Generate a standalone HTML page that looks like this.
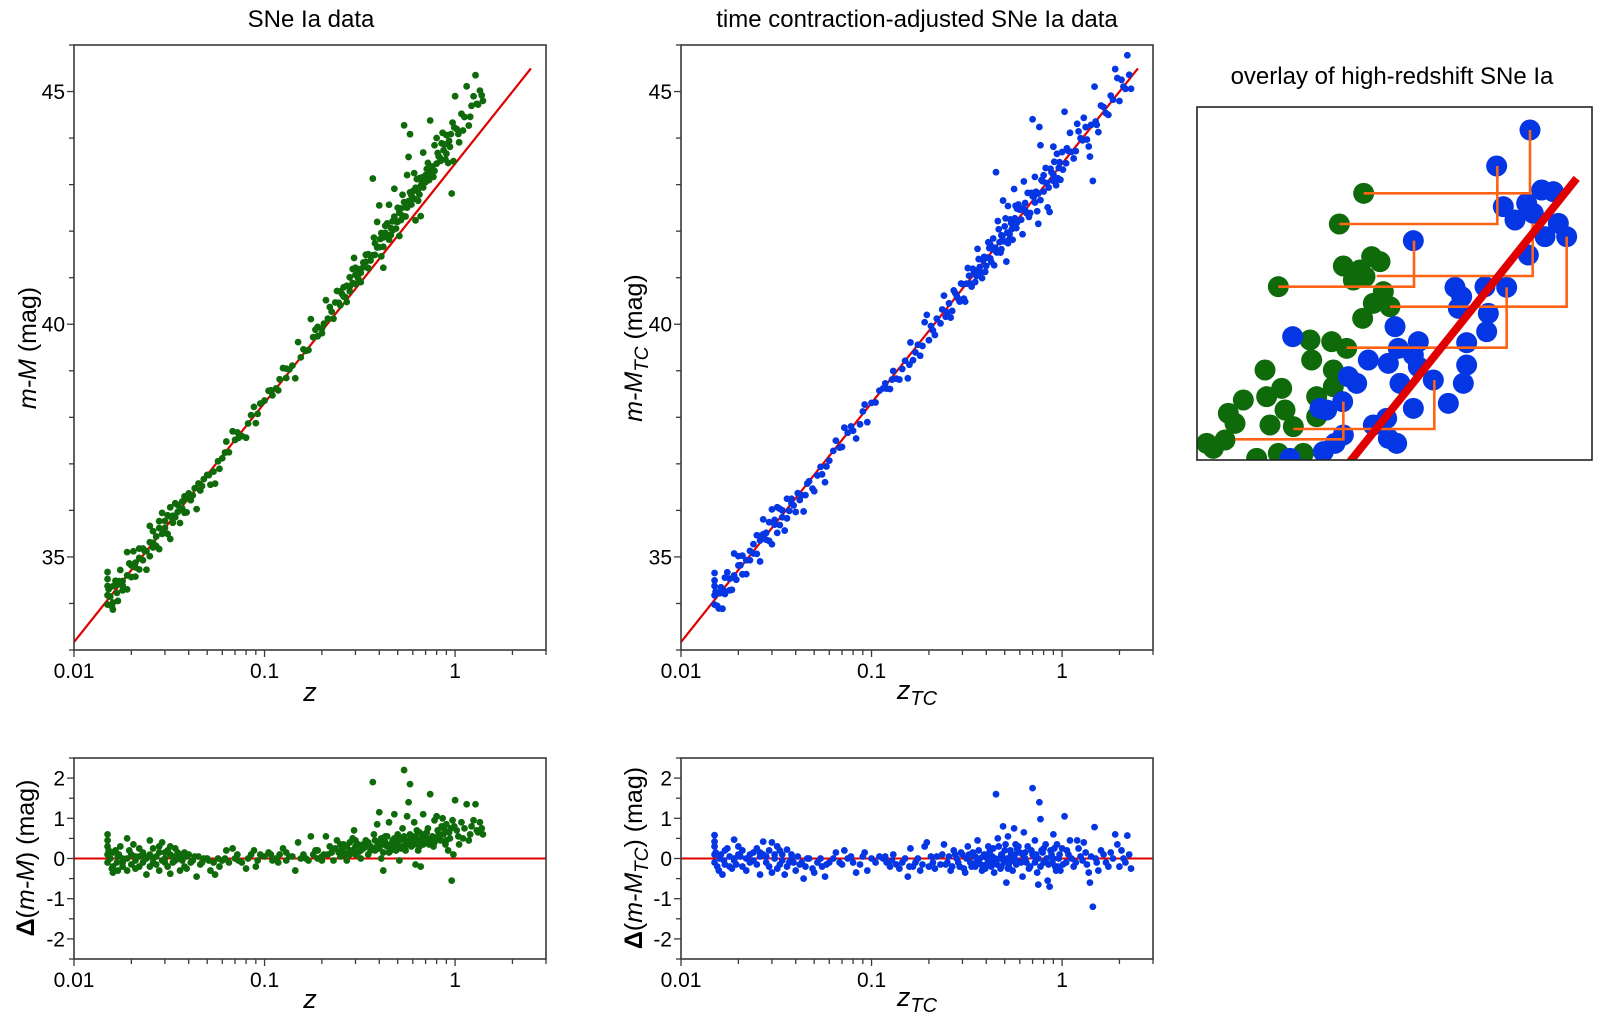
<!DOCTYPE html>
<html><head><meta charset="utf-8"><style>
html,body{margin:0;padding:0;background:#fff;}
svg{display:block;font-family:"Liberation Sans",Arial,sans-serif;}
</style></head><body>
<svg id="fig" width="1600" height="1025" viewBox="0 0 1600 1025" xmlns="http://www.w3.org/2000/svg"></svg>
<script>
// ---- data ----
const greenZ=[0.015,0.015,0.015,0.015,0.015,0.0155,0.016,0.016,0.0165,0.017,0.017,0.0175,0.018,0.018,0.019,0.019,0.02,0.02,0.0205,0.021,0.022,0.022,0.023,0.024,0.024,0.025,0.025,0.026,0.026,0.027,0.028,0.028,0.029,0.03,0.03,0.031,0.032,0.032,0.033,0.034,0.035,0.036,0.036,0.037,0.038,0.039,
0.04,0.042,0.044,0.045,0.047,0.05,0.052,0.054,0.055,0.057,0.06,0.063,0.065,0.068,0.07,0.073,0.076,0.08,0.085,0.088,0.09,0.095,
0.1,0.105,0.11,0.115,0.12,0.125,0.13,0.14,0.145,0.15,0.155,0.16,0.17,0.175,0.18,0.185,0.19,0.2,0.21,0.215,0.22,0.23,0.24,0.245,0.25,0.255,0.26,0.265,0.27,0.28,0.29,0.295,0.3,0.31,0.32,0.33,0.34,0.35,0.36,0.37,0.375,0.38,0.39,0.4,0.405,0.41,0.42,0.43,0.44,0.45,0.46,0.47,0.48,0.49,0.5,0.51,0.52,0.53,0.54,0.55,0.56,0.57,0.58,0.59,0.6,0.61,0.62,0.63,0.64,0.65,0.66,0.67,0.68,0.7,0.72,0.74,0.75,0.77,0.78,0.8,0.82,0.84,0.86,0.88,0.9,0.92,0.94,0.96,0.97,0.98,1.0,1.02,1.05,1.08,1.1,1.15,1.2,1.25,1.28,1.3,1.35,1.4,
0.33,0.36,0.42,0.44,0.47,0.5,0.52,0.56,0.6,0.63,0.66,0.7,0.73,0.8,0.85,0.9,0.95,0.28,0.3,0.4,0.45,0.55,0.65,
0.0152,0.0158,0.016,0.0168,0.0172,0.018,0.019,0.0195,0.021,0.021,0.022,0.023,0.0235,0.025,0.026,0.027,0.028,0.029,0.03,0.031,0.032,0.033,0.034,0.035,0.037,0.038,0.039,0.041,0.043,0.046,0.048,0.051,0.058,0.062,0.072,0.082,0.092,0.108,0.118,0.13,0.135,0.165,0.19,0.2,0.205,0.225,0.235,0.25,0.26,0.27,0.28,0.29,0.3,0.31,0.32,0.34,0.35,0.37,0.38,0.39,0.41,0.42,0.43,0.46,0.48,0.49,0.51,0.53,0.54,0.57,0.58,0.59,0.61,0.62,0.64,0.67,0.68,0.69,0.71,0.74,0.76,0.78,0.81,0.83,0.87,0.89,0.93,0.99,1.04,1.12,1.18,1.22,1.32,1.38];
const greenRes=[0.6,0.45,0.3,0.1,-0.1,0.0,-0.35,-0.2,0.2,-0.3,0.05,0.3,-0.1,-0.2,0.5,0.0,-0.15,0.1,0.35,-0.05,0.05,-0.2,0.15,0.0,-0.4,0.45,0.1,-0.1,0.25,0.05,-0.3,0.15,0.4,0.0,-0.1,0.2,-0.38,0.3,0.05,-0.05,0.15,-0.3,0.0,0.1,-0.2,0.05,
0.1,-0.05,-0.45,0.05,-0.1,0.0,-0.3,-0.1,-0.4,0.0,-0.05,0.2,-0.1,0.25,0.0,-0.05,-0.1,-0.25,0.1,0.2,-0.2,0.1,
0.05,0.15,-0.05,0.0,0.1,0.25,-0.05,0.05,-0.3,0.4,0.0,0.1,-0.05,0.55,0.1,0.2,0.0,0.05,0.55,0.1,0.3,-0.05,0.45,0.15,0.05,0.25,0.35,0.1,-0.05,0.2,0.5,0.7,0.3,0.15,0.0,0.25,0.45,0.1,0.3,1.9,0.6,0.2,0.85,1.15,0.4,0.0,-0.3,0.55,0.3,0.9,0.2,0.45,1.1,0.35,0.6,-0.05,0.25,0.75,2.2,0.4,1.05,1.4,1.85,0.3,0.55,0.9,-0.15,0.45,0.2,0.65,-0.2,0.5,1.1,0.4,0.75,1.6,0.5,0.3,0.95,1.05,0.6,0.45,1.0,0.7,0.85,0.2,0.5,-0.55,0.95,0.1,1.45,0.7,0.35,0.9,0.5,1.35,0.6,0.95,1.35,0.7,0.9,0.6,
0.35,0.2,0.35,0.55,0.25,0.3,0.5,0.35,0.4,0.7,0.45,0.55,0.35,0.5,0.8,0.45,0.75,0.1,0.1,0.25,0.15,0.2,0.3,
0.2,-0.25,0.15,-0.1,0.1,0.0,-0.3,0.2,0.05,-0.25,0.25,-0.1,0.05,-0.2,0.0,-0.15,0.3,-0.05,0.15,-0.2,0.1,-0.1,0.25,0.0,-0.05,0.15,-0.25,-0.1,0.05,-0.15,0.0,-0.05,-0.2,0.0,0.1,0.0,-0.05,0.1,-0.1,0.15,0.05,0.0,0.2,-0.05,0.1,0.15,0.25,0.35,0.15,0.3,0.4,0.2,0.45,0.35,0.2,0.3,0.4,0.25,0.45,0.3,0.5,0.15,0.4,0.35,0.5,0.2,0.45,0.3,0.55,0.45,0.6,0.5,0.35,0.55,0.45,0.6,0.35,0.5,0.65,0.45,0.55,0.4,0.7,0.55,0.6,0.35,0.65,0.8,0.55,0.75,0.45,0.8,0.65,0.75];
const blueZ=[0.015,0.015,0.015,0.015,0.015,0.0155,0.016,0.0165,0.017,0.017,0.018,0.0185,0.019,0.019,0.02,0.02,0.021,0.022,0.023,0.024,0.025,0.026,0.026,0.027,0.027,0.028,0.029,0.03,0.03,0.031,0.032,0.033,0.034,0.035,0.036,0.037,0.038,0.04,0.041,0.043,0.044,0.045,0.047,0.05,0.052,0.055,0.057,0.06,0.065,0.07,0.072,0.075,0.08,0.083,0.09,0.092,0.095,0.1,0.11,0.115,0.12,0.125,0.13,0.135,0.14,0.15,0.155,0.16,0.165,0.17,0.18,0.19,0.195,0.2,0.21,0.22,0.23,0.24,0.25,0.26,0.27,0.28,0.29,0.3,0.31,0.32,0.33,0.34,0.35,0.36,0.37,0.38,0.39,0.4,0.41,0.42,0.43,0.44,0.45,0.46,0.47,0.48,0.49,0.5,0.51,0.52,0.53,0.54,0.55,0.56,0.57,0.58,0.6,0.62,0.63,0.64,0.66,0.68,0.7,0.71,0.72,0.74,0.75,0.76,0.77,0.78,0.8,0.82,0.84,0.86,0.88,0.9,0.92,0.94,0.96,0.98,1.0,1.03,1.05,1.08,1.1,1.15,1.2,1.25,1.3,1.35,1.4,1.45,1.48,1.5,1.55,1.6,1.7,1.8,1.9,1.95,2.0,2.1,2.2,2.25,2.3,
0.35,0.42,0.48,0.52,0.58,0.65,0.7,0.75,0.8,0.85,0.9,0.95,0.62,0.55,0.45,
0.0152,0.0158,0.0162,0.0168,0.0175,0.018,0.019,0.0195,0.0205,0.021,0.022,0.023,0.024,0.025,0.026,0.028,0.029,0.031,0.032,0.033,0.034,0.036,0.038,0.039,0.042,0.046,0.049,0.054,0.058,0.063,0.068,0.078,0.087,0.105,0.118,0.128,0.145,0.158,0.175,0.185,0.205,0.215,0.235,0.245,0.255,0.265,0.275,0.285,0.295,0.305,0.315,0.325,0.335,0.345,0.355,0.365,0.375,0.385,0.395,0.405,0.415,0.425,0.435,0.445,0.455,0.465,0.475,0.485,0.495,0.505,0.515,0.525,0.535,0.545,0.565,0.575,0.59,0.61,0.64,0.67,0.69,0.72,0.73,0.77,0.79,0.83,0.87,0.89,0.91,0.93,0.97,1.01,1.06,1.12,1.18,1.22,1.28,1.33,1.38,1.42,1.52,1.65,1.75,1.85,2.05,2.15];
const blueRes=[0.58,0.42,0.3,0.1,-0.1,-0.2,0.0,-0.4,0.2,-0.15,0.05,-0.25,0.47,-0.05,0.3,0.1,-0.2,0.0,-0.1,0.15,-0.15,0.05,-0.4,0.42,0.1,-0.1,0.2,-0.35,0.4,0.0,0.3,-0.15,0.1,-0.4,0.22,-0.1,0.0,-0.3,0.05,-0.1,-0.5,-0.2,0.0,-0.35,-0.1,-0.2,-0.45,-0.1,0.15,-0.15,0.2,0.0,-0.1,-0.35,0.05,0.15,-0.3,0.0,0.05,0.0,-0.1,-0.2,0.1,-0.15,-0.25,0.0,-0.45,0.25,-0.2,-0.1,-0.3,0.3,0.4,-0.2,-0.1,0.05,-0.15,0.35,-0.1,-0.3,0.2,0.0,-0.2,0.1,-0.35,0.3,-0.1,0.15,-0.2,0.45,0.0,-0.3,0.1,-0.15,0.3,-0.1,0.05,-0.35,1.6,0.5,0.0,-0.2,0.8,0.2,-0.6,0.55,-0.1,0.1,-0.3,0.75,0.35,-0.05,0.15,-0.45,0.65,0.0,0.3,-0.2,1.75,0.05,0.45,-0.35,-0.65,1.4,0.98,0.2,-0.1,0.35,-0.55,-0.7,0.1,0.6,-0.2,0.35,0.0,-0.3,0.25,1.05,-0.1,0.1,0.45,-0.2,0.45,0.05,0.4,-0.15,-0.6,-1.2,0.78,0.0,-0.3,0.2,-0.1,0.15,0.6,0.35,-0.2,0.0,0.57,0.1,-0.25,
0.05,0.2,0.1,-0.25,0.25,-0.1,0.1,0.0,0.25,-0.15,0.0,-0.2,0.1,0.05,-0.1,
0.15,-0.3,0.1,-0.05,0.25,-0.2,0.0,-0.15,0.05,0.2,-0.3,0.1,-0.05,0.25,0.15,0.05,-0.2,0.1,-0.25,0.2,-0.05,-0.2,0.1,-0.1,-0.15,0.0,-0.25,0.0,-0.15,0.0,-0.1,0.05,-0.15,-0.1,0.05,-0.05,-0.1,-0.2,0.0,-0.15,0.05,-0.25,0.1,-0.15,0.05,-0.2,0.1,-0.1,0.15,-0.25,0.0,0.1,-0.2,0.05,-0.1,0.2,-0.15,0.05,-0.25,0.0,0.15,-0.2,0.25,0.0,-0.15,0.3,-0.25,0.05,-0.1,0.35,0.0,-0.2,0.2,-0.05,0.1,-0.15,0.3,-0.1,0.15,-0.25,0.2,-0.1,0.1,-0.2,0.15,0.0,0.2,-0.1,0.25,-0.3,0.1,-0.15,0.2,0.0,-0.1,0.25,-0.05,0.15,-0.35,0.05,-0.1,0.1,-0.2,0.0,0.2,-0.1];
const fitIntercept=43.45, fitSlope=5.14; // reference line m-M = a + b*log10(z)
const xTickVals=[0.01,0.1,1];
const xTickLabels=["0.01","0.1","1"];
const yTopTicks=[35,40,45];
const yBotTicks=[-2,-1,0,1,2];
// overlay inset (zoomed view units)
const ovBlueX=[1110,1010,1145,1180,1030,1100,1065,1120,1195,1155,1220,1105,760,885,905,975,1040,895,985,980,920,920,705,715,775,760,625,685,775,720,820,865,760,565,590,548,500,480,680,640,710,685,550,525,490,390,398,910];
const ovBlueY=[240,348,420,425,470,460,510,490,520,560,560,615,572,712,740,710,712,775,790,845,878,945,830,895,875,915,930,940,950,1000,990,1060,1075,980,1000,1055,1080,1075,1105,1125,1180,1165,1155,1180,1205,1225,860,1000];
const ovGreenX=[611,538,355,550,600,635,660,580,615,670,640,690,608,450,455,515,560,520,315,250,205,225,320,365,375,330,400,470,520,470,140,195,160,290,355,430];
const ovGreenY=[430,522,710,648,660,620,635,690,680,725,760,770,805,870,930,875,895,960,960,1050,1090,1120,1040,1015,1080,1125,1130,1040,1010,1100,1180,1170,1195,1225,1210,1210];
const ovLinkX1=[611,538,355,650,690,560,400,225];
const ovLinkX2=[1110,1012,762,1118,1220,1040,823,550];
const ovLinkY=[430,522,710,678,770,893,1137,1168];
const ovLinkY2=[240,348,572,520,560,712,990,1055];
const ovFitX=[570,1250], ovFitY=[1235,385];

// ---- drawing ----
const NS="http://www.w3.org/2000/svg";
const svg=document.getElementById('fig');
function mk(tag,attrs,parent){const e=document.createElementNS(NS,tag);for(const k in attrs)e.setAttribute(k,attrs[k]);(parent||svg).appendChild(e);return e;}
function txt(s,x,y,size,anchor,parent){const t=mk('text',{x:x,y:y,'font-size':size,'text-anchor':anchor||'middle',fill:'#000'},parent);t.textContent=s;return t;}
const AX='#3a3a3a';
function logScale(x0,x1){const l0=Math.log10(0.01),l1=Math.log10(3);return z=>x0+(Math.log10(z)-l0)/(l1-l0)*(x1-x0);}
function linScale(v0,v1,y0,y1){return v=>y0+(v-v0)/(v1-v0)*(y1-y0);}

function panel(o){
  const g=mk('g',{});
  
  
  const X=logScale(o.x0,o.x1), Y=linScale(o.vmin,o.vmax,o.y1,o.y0);
  const cid='clip-'+o.name;
  const cp=mk('clipPath',{id:cid},g);mk('rect',{x:o.x0,y:o.y0,width:o.x1-o.x0,height:o.y1-o.y0},cp);
  for(let d=-2;d<=0;d++){for(let m=1;m<=9;m++){const z=m*Math.pow(10,d);if(z>3.0001)break;const x=X(z);
    mk('line',{x1:x,x2:x,y1:o.y1,y2:o.y1+(m===1?7:5),stroke:AX,'stroke-width':1.3},g);}}
  xTickVals.forEach((v,i)=>{const t=txt(xTickLabels[i],X(v),o.y1+28,21,'middle',g);
    
    });
  for(let v=Math.ceil(o.vmin/o.minor)*o.minor;v<=o.vmax+1e-9;v+=o.minor){const y=Y(v);const major=Math.abs(v/o.major-Math.round(v/o.major))<1e-6;
    mk('line',{x1:o.x0,x2:o.x0-(major?7:5),y1:y,y2:y,stroke:AX,'stroke-width':1.3},g);}
  o.yt.forEach(v=>{const t=txt(String(v),o.x0-9,Y(v)+7.5,21,'end',g);
    
    });
  const pg=mk('g',{'clip-path':'url(#'+cid+')'},g);
  if(o.resid){mk('line',{x1:o.x0,x2:o.x1,y1:Y(0),y2:Y(0),stroke:'#e00000','stroke-width':2},pg);}
  else{const fl=mk('line',{x1:X(0.01),y1:Y(fitIntercept+fitSlope*Math.log10(0.01)),x2:X(2.5),y2:Y(fitIntercept+fitSlope*Math.log10(2.5)),stroke:'#e00000','stroke-width':2.2},pg);
    }
  o.zs.forEach((z,i)=>{const r=o.res[i];const v=o.resid?r:fitIntercept+fitSlope*Math.log10(z)+r;
    const c=mk('circle',{cx:X(z),cy:Y(v),r:3.4,fill:o.color},pg);
    
    });
  mk('rect',{x:o.x0,y:o.y0,width:o.x1-o.x0,height:o.y1-o.y0,fill:'none',stroke:AX,'stroke-width':1.6},g);
  return g;
}
const GREEN='#0f6a0a', BLUE='#0536e3';
panel({name:'top-left-panel',x0:74,x1:546,y0:45,y1:650,vmin:33,vmax:46,minor:1,major:5,yt:yTopTicks,zs:greenZ,res:greenRes,color:GREEN});
panel({name:'top-middle-panel',x0:681,x1:1153,y0:45,y1:650,vmin:33,vmax:46,minor:1,major:5,yt:yTopTicks,zs:blueZ,res:blueRes,color:BLUE});
panel({name:'bottom-left-panel',x0:74,x1:546,y0:758,y1:959,vmin:-2.5,vmax:2.5,minor:0.5,major:1,yt:yBotTicks,zs:greenZ,res:greenRes,color:GREEN,resid:true});
panel({name:'bottom-middle-panel',x0:681,x1:1153,y0:758,y1:959,vmin:-2.5,vmax:2.5,minor:0.5,major:1,yt:yBotTicks,zs:blueZ,res:blueRes,color:BLUE,resid:true});

function html(s,x,y,size,anchor,rot,name){const t=mk('text',{x:x,y:y,'font-size':size,'text-anchor':anchor,fill:'#000'});if(rot)t.setAttribute('transform','rotate(-90 '+x+' '+y+')');t.innerHTML=s;
  
  return t;}
html('SNe Ia data',311,27,24,'middle',false,'left-title');
html('time contraction-adjusted SNe Ia data',917,27,24,'middle',false,'middle-title');
html('overlay of high-redshift SNe Ia',1392,84,24,'middle',false,'overlay-title');
html('<tspan font-style="italic">m-M</tspan> (mag)',36,348,25,'middle',true,'left-y-title');
html('<tspan font-style="italic">m-M</tspan><tspan font-style="italic" font-size="19" dy="6">TC</tspan><tspan dy="-6"> (mag)</tspan>',642,348,25,'middle',true,'middle-y-title');
html('<tspan font-style="italic">z</tspan>',310,701,27,'middle',false,'left-x-title');
html('<tspan font-style="italic">z</tspan><tspan font-style="italic" font-size="20" dy="6">TC</tspan>',917,699,27,'middle',false,'middle-x-title');
html('<tspan font-weight="bold">Δ</tspan>(<tspan font-style="italic">m-M</tspan>) (mag)',34,858,25,'middle',true,'bottom-left-y-title');
html('<tspan font-weight="bold">Δ</tspan>(<tspan font-style="italic">m-M</tspan><tspan font-style="italic" font-size="19" dy="6">TC</tspan><tspan dy="-6">) (mag)</tspan>',642,858,25,'middle',true,'bottom-middle-y-title');
html('<tspan font-style="italic">z</tspan>',310,1008,27,'middle',false,'bottom-left-x-title');
html('<tspan font-style="italic">z</tspan><tspan font-style="italic" font-size="20" dy="6">TC</tspan>',917,1006,27,'middle',false,'bottom-middle-x-title');

// overlay inset
const og=mk('g',{});


const OX=v=>1160+v/3, OY=v=>50+v/3;
const ocp=mk('clipPath',{id:'clip-ov'},og);mk('rect',{x:1197,y:107,width:395,height:353},ocp);
const oin=mk('g',{'clip-path':'url(#clip-ov)'},og);
ovGreenX.forEach((x,i)=>{const c=mk('circle',{cx:OX(x),cy:OY(ovGreenY[i]),r:10.5,fill:GREEN},oin);
  
  });
ovBlueX.forEach((x,i)=>{const c=mk('circle',{cx:OX(x),cy:OY(ovBlueY[i]),r:10.5,fill:BLUE},oin);
  
  });
ovLinkX1.forEach((x,i)=>{const p=mk('polyline',{points:OX(x)+','+OY(ovLinkY[i])+' '+OX(ovLinkX2[i])+','+OY(ovLinkY[i])+' '+OX(ovLinkX2[i])+','+OY(ovLinkY2[i]),fill:'none',stroke:'#ff6414','stroke-width':2.6},oin);
  
  });
const ofl=mk('line',{x1:OX(ovFitX[0]),y1:OY(ovFitY[0]),x2:OX(ovFitX[1]),y2:OY(ovFitY[1]),stroke:'#e00000','stroke-width':8},oin);

mk('rect',{x:1197,y:107,width:395,height:353,fill:'none',stroke:'#222','stroke-width':1.6},og);
</script>
</body></html>
